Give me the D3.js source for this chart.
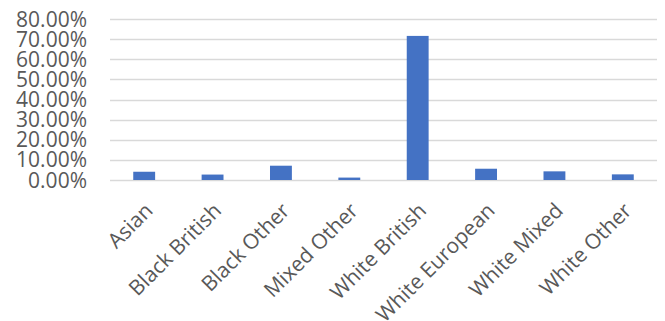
<!DOCTYPE html>
<html><head><meta charset="utf-8">
<script src="https://cdn.jsdelivr.net/npm/d3@7"></script>
<style>body{margin:0;background:#fff}svg{display:block}</style>
</head><body><svg id="c" width="665" height="321"></svg>
<script>
const categories = ["Asian","Black British","Black Other","Mixed Other","White British","White European","White Mixed","White Other"];
const values = [0.041,0.027,0.071,0.012,0.716,0.056,0.043,0.028];
const yTicks = [0,0.1,0.2,0.3,0.4,0.5,0.6,0.7,0.8];

(function(){
const svg = d3.select("#c");
const mLeft = 110, mRight = 657, mTop = 19, mBottom = 180;
const x = d3.scaleBand().domain(categories).range([mLeft,mRight]).paddingInner(0.68).paddingOuter(0.34);
const y = d3.scaleLinear().domain([0,0.8]).range([mBottom,mTop]);

svg.append("g").selectAll("line").data(yTicks).join("line")
  .attr("x1",mLeft).attr("x2",mRight)
  .attr("y1",d=>Math.round(y(d))+0.5).attr("y2",d=>Math.round(y(d))+0.5)
  .attr("stroke","#d9d9d9").attr("stroke-width",1.3);

svg.append("g").selectAll("rect").data(values).join("rect")
  .attr("x",(d,i)=>x(categories[i])).attr("width",x.bandwidth())
  .attr("y",d=>y(d)).attr("height",d=>y(0)-y(d))
  .attr("fill","#4472c4");

svg.append("g").selectAll("text").data(yTicks).join("text")
  .attr("x",87).attr("y",d=>y(d)).attr("dy","0.36em")
  .attr("text-anchor","end").attr("fill","#595959")
  .attr("font-family","Open Sans, sans-serif").attr("font-size",21)
  .text(d=>d3.format(".2%")(d));

svg.append("g").selectAll("text").data(categories).join("text")
  .attr("transform",d=>`translate(${x(d)+x.bandwidth()/2+10},${212}) rotate(-45)`)
  .attr("text-anchor","end").attr("fill","#595959")
  .attr("font-family","Open Sans, sans-serif").attr("font-size",21)
  .text(d=>d);
})();
</script></body></html>
